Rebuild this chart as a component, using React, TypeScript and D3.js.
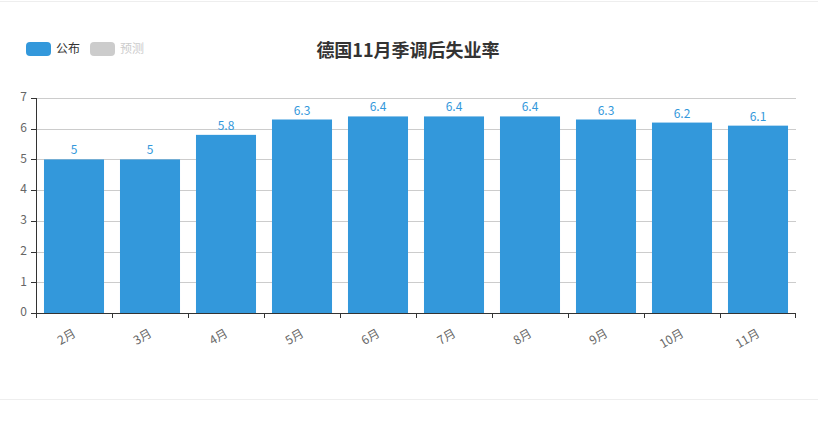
import React from 'react';
import * as d3 from 'd3';

const months = ['2月', '3月', '4月', '5月', '6月', '7月', '8月', '9月', '10月', '11月'];
const published = [5, 5, 5.8, 6.3, 6.4, 6.4, 6.4, 6.3, 6.2, 6.1];
const yTicks = [0, 1, 2, 3, 4, 5, 6, 7];
const legendItems = ['公布', '预测'];

const width = 818;
const height = 421;
const margin = { top: 98, right: 22, bottom: 108, left: 36 };
const barColor = '#3398db';
const font = '"Noto Sans CJK SC", "Noto Sans", sans-serif';

const App: React.FC = () => {
  const x = d3
    .scaleBand<string>()
    .domain(months)
    .range([margin.left, width - margin.right])
    .padding(0);

  const y = d3
    .scaleLinear()
    .domain([0, 7])
    .range([height - margin.bottom, margin.top]);

  const barW = x.bandwidth() * 0.79;
  const y0 = y(0);

  return (
    <svg
      width={width}
      height={height}
      style={{ position: 'absolute', left: 0, top: 0, fontFamily: font }}
    >
      <rect x={0} y={0} width={width} height={height} fill="#fff" />
      <line x1={0} x2={width} y1={1.5} y2={1.5} stroke="#eee" />
      <line x1={0} x2={width} y1={399.5} y2={399.5} stroke="#eee" />

      {/* title */}
      <text
        x={408}
        y={52}
        textAnchor="middle"
        dominantBaseline="middle"
        fontSize={18}
        fontWeight="bold"
        fill="#333"
      >
        德国11月季调后失业率
      </text>

      {/* legend */}
      {legendItems.map((name, i) => (
        <g key={name} transform={`translate(${26 + i * 64},42)`}>
          <rect width={25} height={14} rx={4} fill={i === 0 ? barColor : '#ccc'} />
          <text x={30} y={7.5} dominantBaseline="middle" fontSize={12} fill={i === 0 ? '#333' : '#ccc'}>
            {name}
          </text>
        </g>
      ))}

      {/* grid */}
      {yTicks.slice(1).map((t) => (
        <line
          key={t}
          x1={margin.left}
          x2={width - margin.right}
          y1={Math.round(y(t)) + 0.5}
          y2={Math.round(y(t)) + 0.5}
          stroke="#ccc"
        />
      ))}

      {/* bars */}
      {months.map((m, i) => {
        const cx = (x(m) || 0) + x.bandwidth() / 2;
        const top = y(published[i]);
        return (
          <g key={m}>
            <rect x={cx - barW / 2} y={top} width={barW} height={y0 - top} fill={barColor} />
            <text x={cx} y={top - 5} textAnchor="middle" fontSize={12} fill={barColor}>
              {published[i]}
            </text>
          </g>
        );
      })}

      {/* y axis */}
      <line x1={margin.left + 0.5} x2={margin.left + 0.5} y1={y(7)} y2={y0} stroke="#333" />
      {yTicks.map((t) => (
        <g key={t}>
          <line
            x1={margin.left - 5}
            x2={margin.left}
            y1={Math.round(y(t)) + 0.5}
            y2={Math.round(y(t)) + 0.5}
            stroke="#333"
          />
          <text
            x={margin.left - 9}
            y={y(t)}
            textAnchor="end"
            dominantBaseline="middle"
            fontSize={12}
            fill="#666"
          >
            {t}
          </text>
        </g>
      ))}

      {/* x axis */}
      <line
        x1={margin.left}
        x2={width - margin.right}
        y1={Math.round(y0) + 0.5}
        y2={Math.round(y0) + 0.5}
        stroke="#333"
      />
      {months.map((m) => (
        <line
          key={`t${m}`}
          x1={Math.round(x(m) || 0) + 0.5}
          x2={Math.round(x(m) || 0) + 0.5}
          y1={y0}
          y2={y0 + 5}
          stroke="#333"
        />
      ))}
      <line
        x1={width - margin.right - 0.5}
        x2={width - margin.right - 0.5}
        y1={y0}
        y2={y0 + 5}
        stroke="#333"
      />
      {months.map((m) => {
        const cx = (x(m) || 0) + x.bandwidth() / 2;
        return (
          <text
            key={`l${m}`}
            transform={`translate(${cx + 1},${y0 + 20}) rotate(-30)`}
            textAnchor="end"
            dominantBaseline="middle"
            fontSize={12}
            fill="#666"
          >
            {m}
          </text>
        );
      })}
    </svg>
  );
};

export default App;
